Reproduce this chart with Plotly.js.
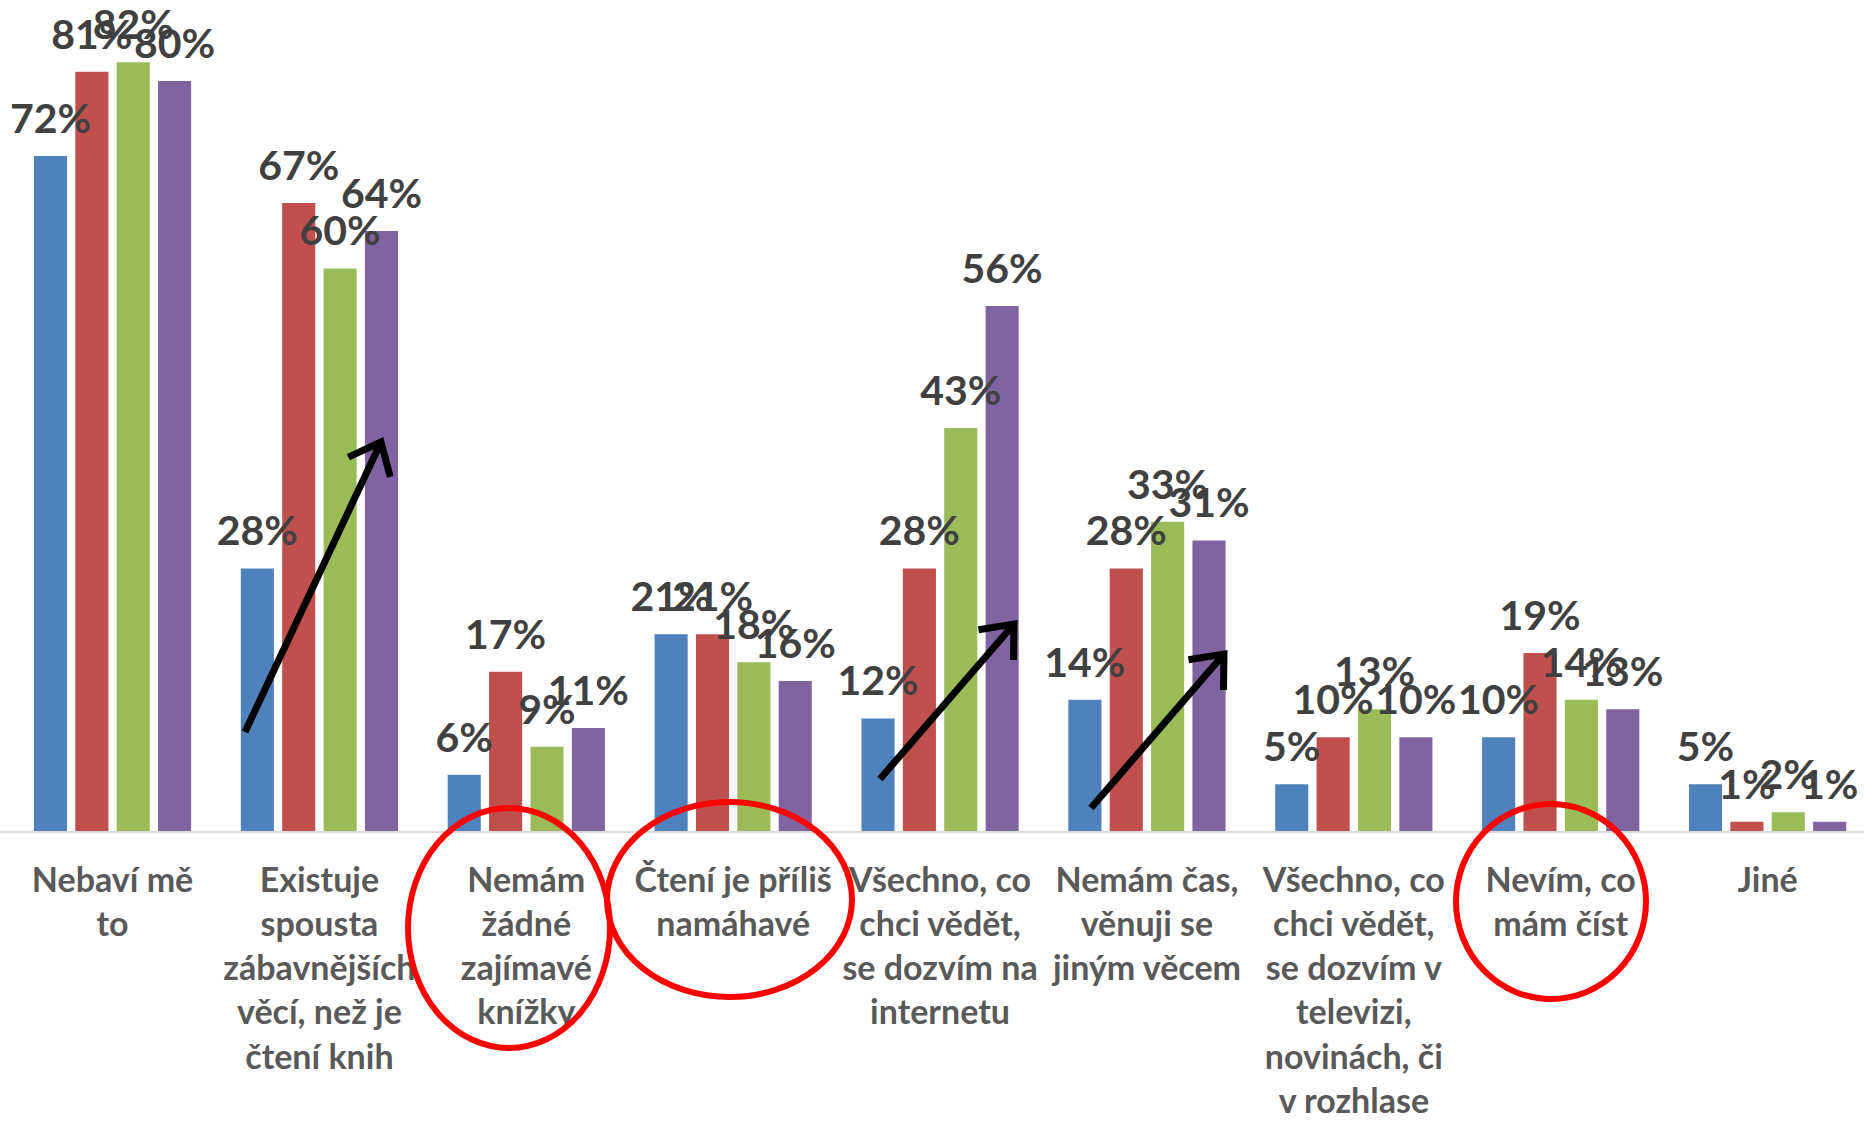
<!DOCTYPE html>
<html>
<head>
<meta charset="utf-8">
<script src="https://cdn.plot.ly/plotly-3.0.1.min.js"></script>
<style>html,body{margin:0;padding:0;background:#fff}#chart{width:1864px;height:1121px}</style>
</head>
<body>
<div id="chart"></div>
<script>
const categories = [
  "Nebaví mě<br>to",
  "Existuje<br>spousta<br>zábavnějších<br>věcí, než je<br>čtení knih",
  "Nemám<br>žádné<br>zajímavé<br>knížky",
  "Čtení je příliš<br>namáhavé",
  "Všechno, co<br>chci vědět,<br>se dozvím na<br>internetu",
  "Nemám čas,<br>věnuji se<br>jiným věcem",
  "Všechno, co<br>chci vědět,<br>se dozvím v<br>televizi,<br>novinách, či<br>v rozhlase",
  "Nevím, co<br>mám číst",
  "Jiné"
];
const series1 = [72, 28, 6, 21, 12, 14, 5, 10, 5];
const series2 = [81, 67, 17, 21, 28, 28, 10, 19, 1];
const series3 = [82, 60, 9, 18, 43, 33, 13, 14, 2];
const series4 = [80, 64, 11, 16, 56, 31, 10, 13, 1];
const seriesNames = ["Řada 1", "Řada 2", "Řada 3", "Řada 4"];
const colors = ["#4F81BD", "#C0504D", "#9BBB59", "#8064A2"];

const W = 1864, H = 1121, MB = 290;
const PH = H - MB;
function px(x) { return x / W; }
function py(y) { return (PH - y) / PH; }

const allSeries = [series1, series2, series3, series4];
const barTraces = allSeries.map((vals, i) => ({
  type: "bar",
  name: seriesNames[i],
  x: categories,
  y: vals,
  offsetgroup: "g" + i,
  marker: { color: colors[i] },
  hoverinfo: "skip"
}));
// value labels: text-only scatter traces aligned with the grouped bars
const labelTraces = allSeries.map((vals, i) => ({
  type: "scatter",
  mode: "markers+text",
  name: seriesNames[i] + " popisky",
  x: categories,
  y: vals,
  offsetgroup: "g" + i,
  text: vals.map(v => v + "%"),
  textposition: "top center",
  marker: { size: 19, opacity: 0, color: colors[i] },
  cliponaxis: false,
  textfont: { family: "Lato, 'Open Sans', sans-serif", size: 41, color: "#404040", weight: "bold" },
  hoverinfo: "skip",
  showlegend: false
}));

// annotation geometry (pixel space of the reference)
const ellipses = [
  [408, 808, 610, 1048],
  [607, 802, 852, 997],
  [1456, 804, 1646, 999]
];
const arrows = [
  [245, 732, 381, 442],
  [880, 779, 1014, 624],
  [1091, 808, 1224, 654]
];

const shapes = [];
ellipses.forEach(e => {
  shapes.push({
    type: "circle", xref: "paper", yref: "paper",
    x0: px(e[0]), x1: px(e[2]), y0: py(e[3]), y1: py(e[1]),
    line: { color: "#FF0000", width: 6 }, fillcolor: "rgba(0,0,0,0)"
  });
});
arrows.forEach(a => {
  const [x0, y0, x1, y1] = a;
  const dx = x1 - x0, dy = y1 - y0;
  const L = Math.hypot(dx, dy);
  const ux = dx / L, uy = dy / L;
  const armLen = 36, ang = 40 * Math.PI / 180;
  const bx = -ux, by = -uy;
  const c = Math.cos(ang), s = Math.sin(ang);
  const ax1 = x1 + armLen * (bx * c - by * s), ay1 = y1 + armLen * (bx * s + by * c);
  const ax2 = x1 + armLen * (bx * c + by * s), ay2 = y1 + armLen * (-bx * s + by * c);
  shapes.push({
    type: "line", xref: "paper", yref: "paper",
    x0: px(x0), y0: py(y0), x1: px(x1 - ux * 3), y1: py(y1 - uy * 3),
    line: { color: "#000000", width: 7 }
  });
  shapes.push({
    type: "path", xref: "paper", yref: "paper",
    path: `M${px(ax1)},${py(ay1)} L${px(x1)},${py(y1)} L${px(ax2)},${py(ay2)}`,
    line: { color: "#000000", width: 7 }
  });
});

const layout = {
  width: W, height: H,
  margin: { l: 0, r: 0, t: 0, b: MB, pad: 0 },
  paper_bgcolor: "#ffffff", plot_bgcolor: "#ffffff",
  showlegend: false,
  barmode: "group",
  bargap: 0.2,
  bargroupgap: 0.2,
  scattermode: "group",
  scattergap: 0.2,
  xaxis: {
    type: "category",
    range: [-0.544, 8.466],
    showline: true, linecolor: "#D9D9D9", linewidth: 2,
    ticks: "", showgrid: false, zeroline: false,
    automargin: false,
    ticklabelstandoff: 18,
    tickfont: { family: "Lato, 'Open Sans', sans-serif", size: 34, color: "#595959", weight: "bold" }
  },
  yaxis: {
    range: [0, 88.64], visible: false, showgrid: false, zeroline: false, fixedrange: true
  },
  shapes: shapes
};

Plotly.newPlot("chart", barTraces.concat(labelTraces), layout, { displayModeBar: false, staticPlot: true });
</script>
</body>
</html>
